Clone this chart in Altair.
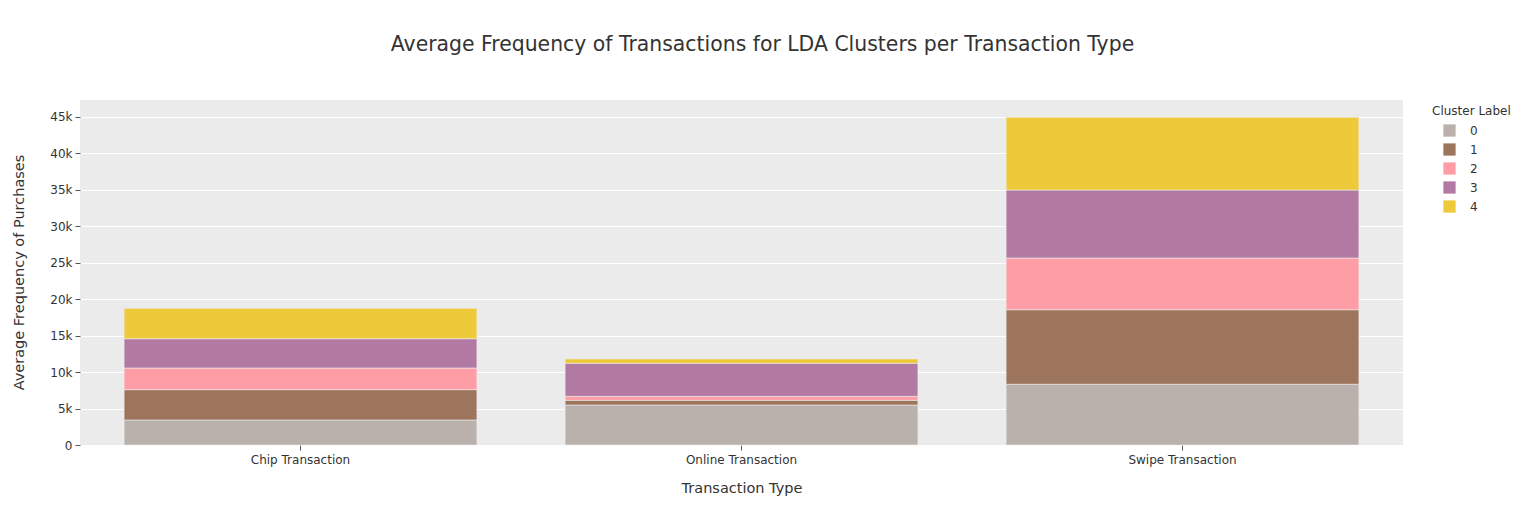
import altair as alt
import pandas as pd

types = ["Chip Transaction", "Online Transaction", "Swipe Transaction"]
clusters = ["0", "1", "2", "3", "4"]
# average frequency per cluster (rows) per transaction type (columns)
cluster_0 = [3430, 5490, 8330]
cluster_1 = [4160, 640, 10230]
cluster_2 = [2970, 550, 7090]
cluster_3 = [4020, 4530, 9330]
cluster_4 = [4170, 590, 9980]
colors = ["#BAB0AC", "#9D755D", "#FF9DA6", "#B279A2", "#EECA3B"]

series = [cluster_0, cluster_1, cluster_2, cluster_3, cluster_4]
rows = []
for c, vals in zip(clusters, series):
    for t, v in zip(types, vals):
        rows.append({"Transaction Type": t, "Cluster Label": c, "value": v})
df = pd.DataFrame(rows)

FONT = "DejaVu Sans"
TXT = "#333333"

chart = alt.Chart(df).mark_bar(stroke="#EDEDED", strokeWidth=0.6).encode(
    x=alt.X("Transaction Type:N", sort=types,
            scale=alt.Scale(paddingInner=0.2, paddingOuter=0.1),
            axis=alt.Axis(title="Transaction Type", labelAngle=0, domain=False,
                          ticks=True, tickSize=5, tickColor="#555555",
                          labelFontSize=12, labelColor=TXT, labelPadding=4,
                          titleFontSize=14.5, titleColor=TXT, titleFontWeight="normal",
                          titleY=43, titleBaseline="middle", grid=False)),
    y=alt.Y("value:Q", stack="zero",
            scale=alt.Scale(domain=[0, 47330], nice=False, zero=True),
            axis=alt.Axis(title="Average Frequency of Purchases",
                          labelExpr="datum.value == 0 ? '0' : format(datum.value, '~s')",
                          values=list(range(0, 45001, 5000)), domain=False,
                          tickSize=5, tickColor="#555555", labelFontSize=12,
                          labelColor=TXT, labelPadding=3, gridColor="white",
                          gridWidth=1, titleFontSize=14.5, titleColor=TXT,
                          titleFontWeight="normal", titleX=-61, titleY=172,
                          titleBaseline="middle", titleAngle=-90)),
    color=alt.Color("Cluster Label:N", sort=clusters,
                    scale=alt.Scale(domain=clusters, range=colors),
                    legend=alt.Legend(orient="none", legendX=1352, legendY=6,
                                      title="Cluster Label", titleFontSize=12,
                                      titleFontWeight="normal", titleColor=TXT,
                                      titlePadding=6,
                                      symbolType="square", symbolSize=150,
                                      symbolStrokeWidth=0, symbolOffset=11,
                                      labelFontSize=12, labelColor=TXT,
                                      labelOffset=14, rowPadding=6)),
    order=alt.Order("Cluster Label:N", sort="ascending"),
).properties(
    width=1323, height=345,
    title=alt.TitleParams("Average Frequency of Transactions for LDA Clusters per Transaction Type",
                          fontSize=20.4, font=FONT, fontWeight="normal", color=TXT,
                          anchor="middle", dx=21, offset=45),
    autosize=alt.AutoSizeParams(type="none"),
    padding={"left": 80, "top": 100, "right": 122, "bottom": 80},
).configure(font=FONT).configure_view(fill="#EBEBEB", stroke=None)

chart.save("out.html", embed_options={"renderer": "svg", "actions": False})
